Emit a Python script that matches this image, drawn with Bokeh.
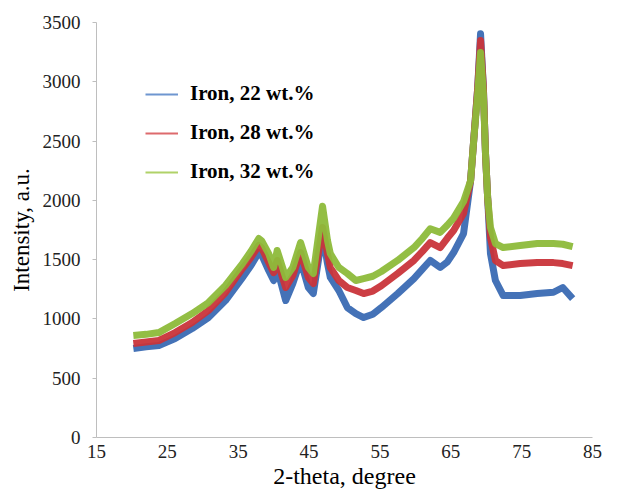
from bokeh.plotting import figure
from bokeh.models import Range1d, FixedTicker, Legend, LegendItem
from bokeh.embed import file_html
from bokeh.resources import INLINE

# 2-theta positions (degree)
two_theta = [20.2, 22.0, 23.8, 26.1, 28.5, 30.8, 33.2, 35.6, 36.8, 37.9, 38.3, 39.3,
             40.0, 40.5, 41.7, 42.7, 43.8, 44.9, 45.6, 46.9, 47.6, 48.0, 49.2, 50.4,
             51.6, 52.7, 54.0, 55.2, 57.5, 59.8, 61.0, 62.1, 63.5, 64.5, 65.4, 66.8,
             67.8, 68.2, 68.8, 69.2, 69.6, 69.9, 70.2, 70.6, 71.3, 72.4, 74.8, 77.2,
             79.5, 80.8, 82.2]

iron_22 = [750, 765, 776, 835, 919, 1012, 1155, 1349, 1450, 1560, 1540, 1408,
           1324, 1425, 1155, 1298, 1493, 1265, 1214, 1720, 1467, 1350, 1240, 1096,
           1045, 1012, 1040, 1096, 1214, 1340, 1420, 1493, 1434, 1480, 1560, 1720,
           2167, 2479, 2950, 3406, 2950, 2395, 2024, 1551, 1324, 1197, 1197, 1214,
           1225, 1265, 1172]

iron_28 = [793, 805, 818, 885, 970, 1071, 1223, 1425, 1520, 1619, 1600, 1476,
           1390, 1493, 1265, 1366, 1560, 1349, 1298, 1771, 1551, 1433, 1324, 1265,
           1240, 1214, 1235, 1280, 1383, 1493, 1570, 1644, 1602, 1680, 1745, 1889,
           2167, 2479, 2950, 3348, 2950, 2395, 2024, 1686, 1493, 1450, 1467, 1475,
           1475, 1467, 1450]

iron_32 = [860, 870, 885, 961, 1045, 1138, 1282, 1467, 1570, 1678, 1660, 1551,
           1434, 1577, 1350, 1434, 1644, 1434, 1383, 1950, 1661, 1550, 1434, 1383,
           1324, 1340, 1360, 1400, 1493, 1602, 1680, 1760, 1730, 1790, 1850, 1990,
           2167, 2479, 2900, 3247, 2900, 2395, 2024, 1771, 1636, 1602, 1619, 1636,
           1636, 1630, 1610]

series_names = ["Iron, 22 wt.%", "Iron, 28 wt.%", "Iron, 32 wt.%"]
x_ticks = [15, 25, 35, 45, 55, 65, 75, 85]
y_ticks = [0, 500, 1000, 1500, 2000, 2500, 3000, 3500]

colors = ["#3A6AB3", "#C9343A", "#8DBB3A"]
legend_colors = ["#6E96D0", "#DD6A6D", "#B0D268"]

p = figure(width=620, height=491, output_backend="svg", toolbar_location=None,
           x_range=Range1d(15, 85), y_range=Range1d(0, 3500),
           min_border_left=96, min_border_right=28, min_border_top=22,
           min_border_bottom=54)
p.outline_line_color = None
p.grid.visible = False
p.background_fill_color = "white"
p.border_fill_color = "white"

for ys, c in zip([iron_22, iron_28, iron_32], colors):
    p.line(two_theta, ys, line_color=c, line_width=7, line_join="round", line_alpha=0.95)

nan = float("nan")
items = []
for name, lc in zip(series_names, legend_colors):
    r = p.line([nan], [nan], line_color=lc, line_width=2)
    items.append(LegendItem(label=name, renderers=[r]))

legend = Legend(items=items, location=(49, 253), border_line_color=None,
                background_fill_alpha=0, padding=0, margin=0, spacing=14,
                glyph_width=33, glyph_height=20, label_height=20, label_standoff=12,
                label_text_font="Liberation Serif", label_text_font_style="bold",
                label_text_font_size="21px", label_text_color="black")
p.add_layout(legend)

for ax in (p.xaxis[0], p.yaxis[0]):
    ax.axis_line_color = "#BEBEBE"
    ax.major_tick_line_color = "#BEBEBE"
    ax.minor_tick_line_color = None
    ax.major_label_text_font = "Liberation Sans Narrow"
    ax.major_label_text_font_size = "19px"
    ax.major_label_text_color = "#222222"
    ax.axis_label_text_font = "Liberation Serif"
    ax.axis_label_text_font_style = "normal"
    ax.axis_label_text_color = "black"

p.xaxis.ticker = FixedTicker(ticks=x_ticks)
p.yaxis.ticker = FixedTicker(ticks=y_ticks)
p.xaxis.major_tick_out = 0
p.xaxis.major_tick_in = 0
p.xaxis.major_label_standoff = 7
p.yaxis.major_tick_out = 4
p.yaxis.major_tick_in = 0
p.yaxis.major_label_standoff = 12

p.xaxis.axis_label = "2-theta, degree"
p.xaxis.axis_label_text_font_size = "24px"
p.xaxis.axis_label_standoff = 2
p.yaxis.axis_label = "Intensity, a.u."
p.yaxis.axis_label_text_font_size = "23px"
p.yaxis.axis_label_standoff = 6

open("out.html", "w").write(file_html(p, INLINE))
